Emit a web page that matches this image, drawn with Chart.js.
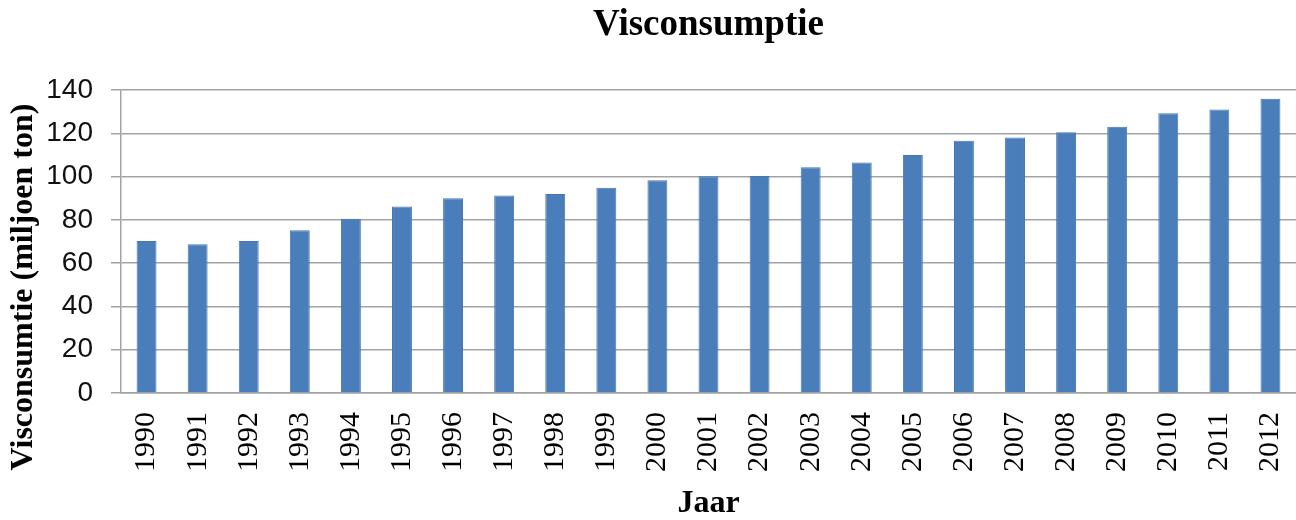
<!DOCTYPE html>
<html>
<head>
<meta charset="utf-8">
<script src="https://cdn.jsdelivr.net/npm/chart.js@4/dist/chart.umd.min.js"></script>
<style>
  html, body { margin: 0; padding: 0; background: #fff; }
  #wrap { width: 1296px; height: 520px; }
</style>
</head>
<body>
<div id="wrap"><canvas id="chart" width="1296" height="520"></canvas></div>
<script>
const years = ['1990', '1991', '1992', '1993', '1994', '1995', '1996', '1997', '1998', '1999', '2000', '2001',
    '2002', '2003', '2004', '2005', '2006', '2007', '2008', '2009', '2010', '2011', '2012'];
const consumption = [70.2, 68.7, 70.2, 75.2, 80.5, 86.2, 90, 91.2, 92, 94.8, 98.3, 100.2,
    100.3, 104.3, 106.5, 110, 116.5, 118, 120.5, 123, 129.3, 131, 136];
const yTicks = [0, 20, 40, 60, 80, 100, 120, 140];
const chartTitle = 'Visconsumptie';
const yTitle = 'Visconsumtie (miljoen ton)';

const gridGray = '#a3a3a3';
const serif = '"Liberation Serif", "Times New Roman", serif';

// main title centred over the plot, y title placed low like the excel original
const titlesPlugin = {
    id: 'titles',
    afterDraw(chart) {
        const ctx = chart.ctx;
        const area = chart.chartArea;
        ctx.save();
        ctx.fillStyle = '#000';
        ctx.textAlign = 'center';
        ctx.textBaseline = 'alphabetic';
        ctx.font = 'bold 37px ' + serif;
        ctx.fillText(chartTitle, (area.left + area.right) / 2, 35);
        ctx.translate(32, 287);
        ctx.rotate(-Math.PI / 2);
        ctx.font = 'bold 32px ' + serif;
        ctx.fillText(yTitle, 0, 0);
        ctx.restore();
    }
};

new Chart(document.getElementById('chart'), {
    type: 'bar',
    data: {
        labels: years,
        datasets: [{
            label: 'Visconsumptie',
            data: consumption,
            backgroundColor: '#4a7ebb',
            borderColor: '#4677b3',
            borderWidth: 1,
            barPercentage: 0.39,
            categoryPercentage: 1
        }]
    },
    options: {
        responsive: false,
        animation: false,
        layout: { padding: { top: 90, left: 0, right: 0, bottom: 0 }, autoPadding: false },
        plugins: {
            legend: { display: false },
            tooltip: { enabled: false },
            title: { display: false }
        },
        scales: {
            x: {
                grid: { display: false, drawTicks: false },
                border: { display: true, color: gridGray, width: 1.5 },
                ticks: {
                    color: '#000',
                    font: { family: serif, size: 30 },
                    minRotation: 90,
                    maxRotation: 90,
                    autoSkip: false,
                    padding: 19
                },
                title: {
                    display: true,
                    text: 'Jaar',
                    color: '#000',
                    font: { family: serif, size: 32, weight: 'bold', lineHeight: 1 },
                    padding: { top: 0, bottom: 0 }
                },
                afterFit: scale => {
                    scale.height = 127;
                    scale.paddingLeft = 0;
                    scale.paddingRight = 0;
                }
            },
            y: {
                min: 0,
                max: 140,
                afterBuildTicks: scale => { scale.ticks = yTicks.map(v => ({ value: v })); },
                grid: { color: gridGray, lineWidth: 1.5, tickLength: 10, drawTicks: true },
                border: { display: true, color: gridGray, width: 1.5 },
                ticks: {
                    color: '#111',
                    font: { family: '"Liberation Sans", Arial, sans-serif', size: 28 },
                    padding: 18
                },
                afterFit: scale => {
                    scale.width = 121;
                    scale.paddingTop = 0;
                    scale.paddingBottom = 0;
                }
            }
        }
    },
    plugins: [titlesPlugin]
});
</script>
</body>
</html>
